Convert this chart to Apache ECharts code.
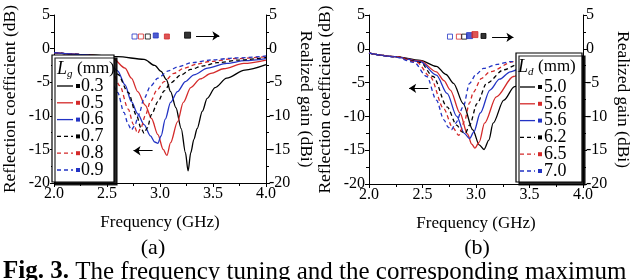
<!DOCTYPE html>
<html>
<head>
<meta charset="utf-8">
<script src="https://cdn.jsdelivr.net/npm/echarts/dist/echarts.min.js"></script>
<style>html,body{margin:0;padding:0;background:#fff;}#c{width:640px;height:280px;}</style>
</head>
<body>
<div id="c"></div>
<script>
// ---------- DATA ----------
// (a) reflection coefficient vs frequency for Lg (mm)
const aLabels = ['0.3', '0.5', '0.6', '0.7', '0.8', '0.9'];
const aFreq03 = [2.0, 2.3, 2.6, 2.85, 2.95, 3.01, 3.06, 3.10, 3.15, 3.20, 3.24, 3.265, 3.29, 3.32, 3.35, 3.40, 3.445, 3.52, 3.63, 3.8, 4.0];
const aS03    = [-0.6, -0.9, -1.2, -1.6, -2.5, -3.4, -4.6, -6.4, -8.8, -11.9, -15.5, -18.2, -15.5, -13.5, -11.9, -9.3, -7.4, -5.8, -4.4, -3.2, -2.4];
const aFreq05 = [2.0, 2.3, 2.55, 2.67, 2.73, 2.79, 2.86, 2.92, 2.98, 3.03, 3.065, 3.10, 3.165, 3.22, 3.29, 3.38, 3.48, 3.6, 3.79, 4.0];
const aS05    = [-0.6, -0.9, -1.4, -2.9, -4.4, -6.4, -8.4, -10.4, -12.8, -15.0, -15.9, -14.0, -10.9, -8.0, -5.8, -4.5, -3.7, -3.0, -2.2, -1.7];
const aFreq06 = [2.0, 2.3, 2.5, 2.6, 2.67, 2.73, 2.79, 2.85, 2.91, 2.95, 2.98, 3.01, 3.05, 3.1, 3.165, 3.24, 3.32, 3.45, 3.63, 3.8, 4.0];
const aS06    = [-0.6, -0.9, -1.6, -3.3, -5.4, -7.9, -9.7, -11.3, -13.0, -13.9, -14.1, -13.0, -10.5, -8.0, -6.4, -4.9, -3.9, -2.9, -2.2, -1.8, -1.5];
const aFreq07 = [2.0, 2.3, 2.5, 2.6, 2.7, 2.78, 2.82, 2.85, 2.88, 2.92, 2.98, 3.04, 3.1, 3.2, 3.29, 3.4, 3.54, 3.75, 4.0];
const aS07    = [-0.6, -0.9, -2.0, -3.8, -6.5, -10.0, -11.8, -12.6, -11.8, -9.8, -7.9, -6.3, -5.1, -3.9, -3.1, -2.6, -2.1, -1.7, -1.3];
const aFreq08 = [2.0, 2.3, 2.45, 2.55, 2.62, 2.7, 2.75, 2.79, 2.82, 2.86, 2.91, 2.97, 3.04, 3.13, 3.23, 3.35, 3.48, 3.7, 4.0];
const aS08    = [-0.6, -0.9, -1.8, -3.5, -5.5, -9.0, -11.3, -12.6, -11.8, -10.0, -7.9, -6.2, -4.9, -3.7, -2.9, -2.3, -1.9, -1.5, -1.2];
const aFreq09 = [2.0, 2.3, 2.42, 2.5, 2.6, 2.66, 2.7, 2.73, 2.76, 2.8, 2.85, 2.91, 2.98, 3.08, 3.17, 3.3, 3.48, 3.7, 4.0];
const aS09    = [-0.6, -0.9, -1.6, -3.0, -6.5, -9.5, -11.3, -12.1, -11.5, -9.8, -7.4, -5.6, -4.4, -3.3, -2.7, -2.1, -1.7, -1.4, -1.1];
// (a) realized gain markers (order: 0.9, 0.8, 0.7, 0.6, 0.5, 0.3)
const aGainFreq = [2.76, 2.82, 2.885, 2.96, 3.065, 3.26];
const aGain     = [1.8, 1.8, 1.8, 1.95, 1.8, 2.0];

// (b) reflection coefficient vs frequency for Ld (mm)
const bLabels = ['5.0', '5.6', '5.6', '6.2', '6.5', '7.0'];
const bFreq50  = [2.0, 2.24, 2.48, 2.63, 2.72, 2.79, 2.88, 2.97, 3.03, 3.075, 3.12, 3.16, 3.26, 3.36, 3.5, 3.7, 4.0];
const bS50     = [-0.65, -1.15, -1.7, -2.6, -3.8, -5.1, -8.1, -12.0, -14.2, -14.9, -13.5, -11.0, -7.6, -5.6, -3.8, -2.4, -1.5];
const bFreq56r = [2.0, 2.24, 2.48, 2.63, 2.70, 2.76, 2.85, 2.92, 2.96, 2.99, 3.03, 3.08, 3.19, 3.35, 3.5, 3.7, 4.0];
const bS56r    = [-0.65, -1.15, -1.8, -3.4, -4.7, -6.1, -9.5, -12.6, -14.1, -14.7, -13.8, -11.0, -7.1, -4.1, -3.0, -2.0, -1.4];
const bFreq56b = [2.0, 2.24, 2.48, 2.63, 2.73, 2.82, 2.89, 2.94, 2.98, 3.04, 3.13, 3.22, 3.32, 3.45, 3.65, 4.0];
const bS56b    = [-0.65, -1.15, -1.9, -3.9, -6.6, -10.0, -12.5, -13.3, -12.3, -9.5, -6.1, -4.5, -3.4, -2.6, -1.9, -1.3];
const bFreq62  = [2.0, 2.24, 2.48, 2.6, 2.73, 2.82, 2.87, 2.90, 2.94, 3.01, 3.10, 3.26, 3.38, 3.6, 4.0];
const bS62     = [-0.65, -1.15, -2.0, -4.1, -8.6, -11.3, -12.3, -12.5, -11.3, -8.1, -5.1, -3.1, -2.4, -1.7, -1.2];
const bFreq65  = [2.0, 2.24, 2.45, 2.57, 2.70, 2.78, 2.84, 2.89, 2.94, 2.975, 3.05, 3.13, 3.35, 3.6, 4.0];
const bS65     = [-0.65, -1.15, -2.0, -4.1, -8.9, -11.6, -12.8, -10.8, -8.0, -6.4, -4.4, -3.4, -1.9, -1.4, -1.1];
const bFreq70  = [2.0, 2.24, 2.42, 2.54, 2.63, 2.70, 2.74, 2.77, 2.81, 2.88, 2.94, 3.0, 3.07, 3.2, 3.32, 3.6, 4.0];
const bS70     = [-0.65, -1.2, -2.0, -4.1, -7.6, -10.5, -11.6, -12.0, -11.0, -8.6, -5.1, -3.8, -2.9, -2.3, -1.9, -1.4, -1.1];
// (b) realized gain markers (order: 7.0, 6.5, 6.2, 5.6 blue, 5.6 red, 5.0)
const bGainFreq = [2.757, 2.84, 2.89, 2.94, 2.99, 3.07];
const bGain     = [1.8, 1.8, 1.8, 1.95, 2.1, 1.9];

const yTicks = [-20, -15, -10, -5, 0, 5];
const xTicks = [2.0, 2.5, 3.0, 3.5, 4.0];

// ---------- STYLE ----------
const FONT = '"Liberation Serif", "Times New Roman", serif';
const BLK = '#000000', RED = '#d42a2a', BLU = '#2233c4';
const curveColors = [BLK, RED, BLU, BLK, RED, BLU];
const curveDashed = [false, false, false, true, true, true];
const markerColors = [BLU, RED, BLK, BLU, RED, BLK];
const markerFilled = [false, false, false, true, true, true];
const aMarkerSize = [5, 5, 5, 5, 5, 6];
const bMarkerSize = [5, 5, 5, 6, 6, 5];

function zip(f, s) { return f.map((x, i) => [x, s[i]]); }

function xAxisCfg(g) {
  return {
    type: 'value', gridIndex: g, min: xTicks[0], max: xTicks[xTicks.length - 1], interval: 0.5,
    position: 'bottom',
    axisLine: { show: true, onZero: false, lineStyle: { color: BLK, width: 1 } },
    axisTick: { show: true, inside: false, length: 4, lineStyle: { color: BLK } },
    minorTick: { show: true, splitNumber: 2, length: 3, lineStyle: { color: BLK } },
    splitLine: { show: false },
    axisLabel: { color: BLK, fontFamily: FONT, fontSize: 16, margin: 3, formatter: v => v.toFixed(1) },
    name: 'Frequency (GHz)', nameLocation: 'middle', nameGap: 31,
    nameTextStyle: { color: BLK, fontFamily: FONT, fontSize: 17 }
  };
}
function yAxisCfg(g, pos, name) {
  return {
    type: 'value', gridIndex: g, min: yTicks[0], max: yTicks[yTicks.length - 1], interval: 5,
    position: pos,
    axisLine: { show: true, onZero: false, lineStyle: { color: BLK, width: 1 } },
    axisTick: { show: true, inside: false, length: 4, lineStyle: { color: BLK } },
    minorTick: { show: true, splitNumber: 2, length: 3, lineStyle: { color: BLK } },
    splitLine: { show: false },
    axisLabel: { color: BLK, fontFamily: FONT, fontSize: 16, margin: pos === 'left' ? 4 : 3 },
    name: name, nameLocation: 'middle', nameGap: pos === 'left' ? 35 : 31,
    nameRotate: pos === 'left' ? 90 : -90,
    nameTextStyle: { color: BLK, fontFamily: FONT, fontSize: 17.5 }
  };
}

function curveSeries(xi, yi, f, s, idx) {
  return {
    type: 'line', xAxisIndex: xi, yAxisIndex: yi, data: zip(f, s),
    showSymbol: false, smooth: 0.3, smoothMonotone: 'x',
    lineStyle: { color: curveColors[idx], width: 1.3, type: curveDashed[idx] ? [4, 3] : 'solid' },
    itemStyle: { color: curveColors[idx] }, z: 2, silent: true
  };
}
function arrowMarkLine(arrow) {
  return {
    silent: true, symbol: ['none', 'arrow'], symbolSize: 7, label: { show: false },
    lineStyle: { color: BLK, type: 'solid', width: 1, opacity: 1 }, itemStyle: { color: BLK },
    emphasis: { disabled: true }, animation: false,
    data: [[{ coord: arrow[0] }, { coord: arrow[1] }]]
  };
}
function gainSeries(xi, yi, f, g, sizes, arrow) {
  return {
    type: 'scatter', xAxisIndex: xi, yAxisIndex: yi, symbol: 'rect', silent: true, z: 3,
    data: f.map((x, i) => ({
      value: [x, g[i]], symbolSize: sizes[i],
      itemStyle: { color: markerFilled[i] ? markerColors[i] : '#fff', borderColor: markerColors[i], borderWidth: 1 }
    })),
    markLine: arrowMarkLine(arrow)
  };
}
function arrowSeries(xi, yi, arrow) {
  return {
    type: 'line', xAxisIndex: xi, yAxisIndex: yi, data: [], silent: true,
    markLine: arrowMarkLine(arrow)
  };
}

function legendGraphic(box, lineX, sqX, txtX, rowY, labels, sub, titleX) {
  const els = [];
  els.push({ type: 'rect', z: 100, shape: { x: box[0], y: box[1], width: box[2], height: box[3] },
    style: { fill: '#fff', stroke: BLK, lineWidth: 1.2, shadowColor: 'rgba(0,0,0,0.85)', shadowOffsetX: 3, shadowOffsetY: 3, shadowBlur: 0 } });
  els.push({ type: 'text', z: 101, x: titleX, y: box[1] + 14,
    style: { text: 'L', fontFamily: FONT, fontSize: 18, fontStyle: 'italic', fill: BLK, verticalAlign: 'middle' } });
  els.push({ type: 'text', z: 101, x: titleX + 10, y: box[1] + 19,
    style: { text: sub, fontFamily: FONT, fontSize: 11, fontStyle: 'italic', fill: BLK, verticalAlign: 'middle' } });
  els.push({ type: 'text', z: 101, x: titleX + 20, y: box[1] + 14,
    style: { text: '(mm)', fontFamily: FONT, fontSize: 17, fill: BLK, verticalAlign: 'middle' } });
  labels.forEach((lab, i) => {
    const y = rowY + i * 16.8;
    els.push({ type: 'line', z: 101, shape: { x1: lineX[0], y1: y, x2: lineX[1], y2: y },
      style: { stroke: curveColors[i], lineWidth: 1.3, lineDash: curveDashed[i] ? [4, 3] : null } });
    els.push({ type: 'rect', z: 101, shape: { x: sqX, y: y - 2, width: 4, height: 4 },
      style: { fill: curveColors[i] } });
    els.push({ type: 'text', z: 101, x: txtX, y: y,
      style: { text: lab, fontFamily: FONT, fontSize: 18, fill: BLK, verticalAlign: 'middle' } });
  });
  return els;
}

const option = {
  animation: false,
  backgroundColor: '#fff',
  grid: [
    { left: 52, right: 374, top: 15, bottom: 97 },
    { left: 369, right: 57, top: 15, bottom: 96 }
  ],
  xAxis: [xAxisCfg(0), xAxisCfg(1)],
  yAxis: [
    yAxisCfg(0, 'left', 'Reflection coefficient (dB)'),
    yAxisCfg(0, 'right', 'Realized gain (dBi)'),
    yAxisCfg(1, 'left', 'Reflection coefficient (dB)'),
    yAxisCfg(1, 'right', 'Realized gain (dBi)')
  ],
  series: [
    curveSeries(0, 0, aFreq03, aS03, 0),
    curveSeries(0, 0, aFreq05, aS05, 1),
    curveSeries(0, 0, aFreq06, aS06, 2),
    curveSeries(0, 0, aFreq07, aS07, 3),
    curveSeries(0, 0, aFreq08, aS08, 4),
    curveSeries(0, 0, aFreq09, aS09, 5),
    gainSeries(0, 1, aGainFreq, aGain, aMarkerSize, [[3.34, 1.9], [3.56, 1.9]]),
    arrowSeries(0, 0, [[2.93, -15.2], [2.75, -15.2]]),
    curveSeries(1, 2, bFreq50, bS50, 0),
    curveSeries(1, 2, bFreq56r, bS56r, 1),
    curveSeries(1, 2, bFreq56b, bS56b, 2),
    curveSeries(1, 2, bFreq62, bS62, 3),
    curveSeries(1, 2, bFreq65, bS65, 4),
    curveSeries(1, 2, bFreq70, bS70, 5),
    gainSeries(1, 3, bGainFreq, bGain, bMarkerSize, [[3.15, 1.7], [3.35, 1.7]]),
    arrowSeries(1, 2, [[2.555, -5.85], [2.375, -5.85]])
  ],
  graphic: [].concat(
    legendGraphic([52, 55, 62, 127], [57, 73], 76, 81, 86, aLabels, 'g', 57),
    legendGraphic([516, 53, 66, 129], [520, 535], 538, 544, 87, bLabels, 'd', 518),
    [
      { type: 'text', x: 153, y: 248, style: { text: '(a)', fontFamily: FONT, fontSize: 22, fill: BLK, align: 'center', verticalAlign: 'middle' } },
      { type: 'text', x: 477, y: 248, style: { text: '(b)', fontFamily: FONT, fontSize: 22, fill: BLK, align: 'center', verticalAlign: 'middle' } },
      { type: 'text', x: 3, y: 272, style: {
          text: '{b|Fig. 3.} The frequency tuning and the corresponding maximum',
          fontFamily: FONT, fontSize: 25, fill: BLK, verticalAlign: 'middle',
          rich: { b: { fontFamily: FONT, fontSize: 25, fontWeight: 'bold', fill: BLK } } } }
    ]
  )
};

const chart = echarts.init(document.getElementById('c'), null, { renderer: 'canvas' });
chart.setOption(option);
</script>
</body>
</html>
